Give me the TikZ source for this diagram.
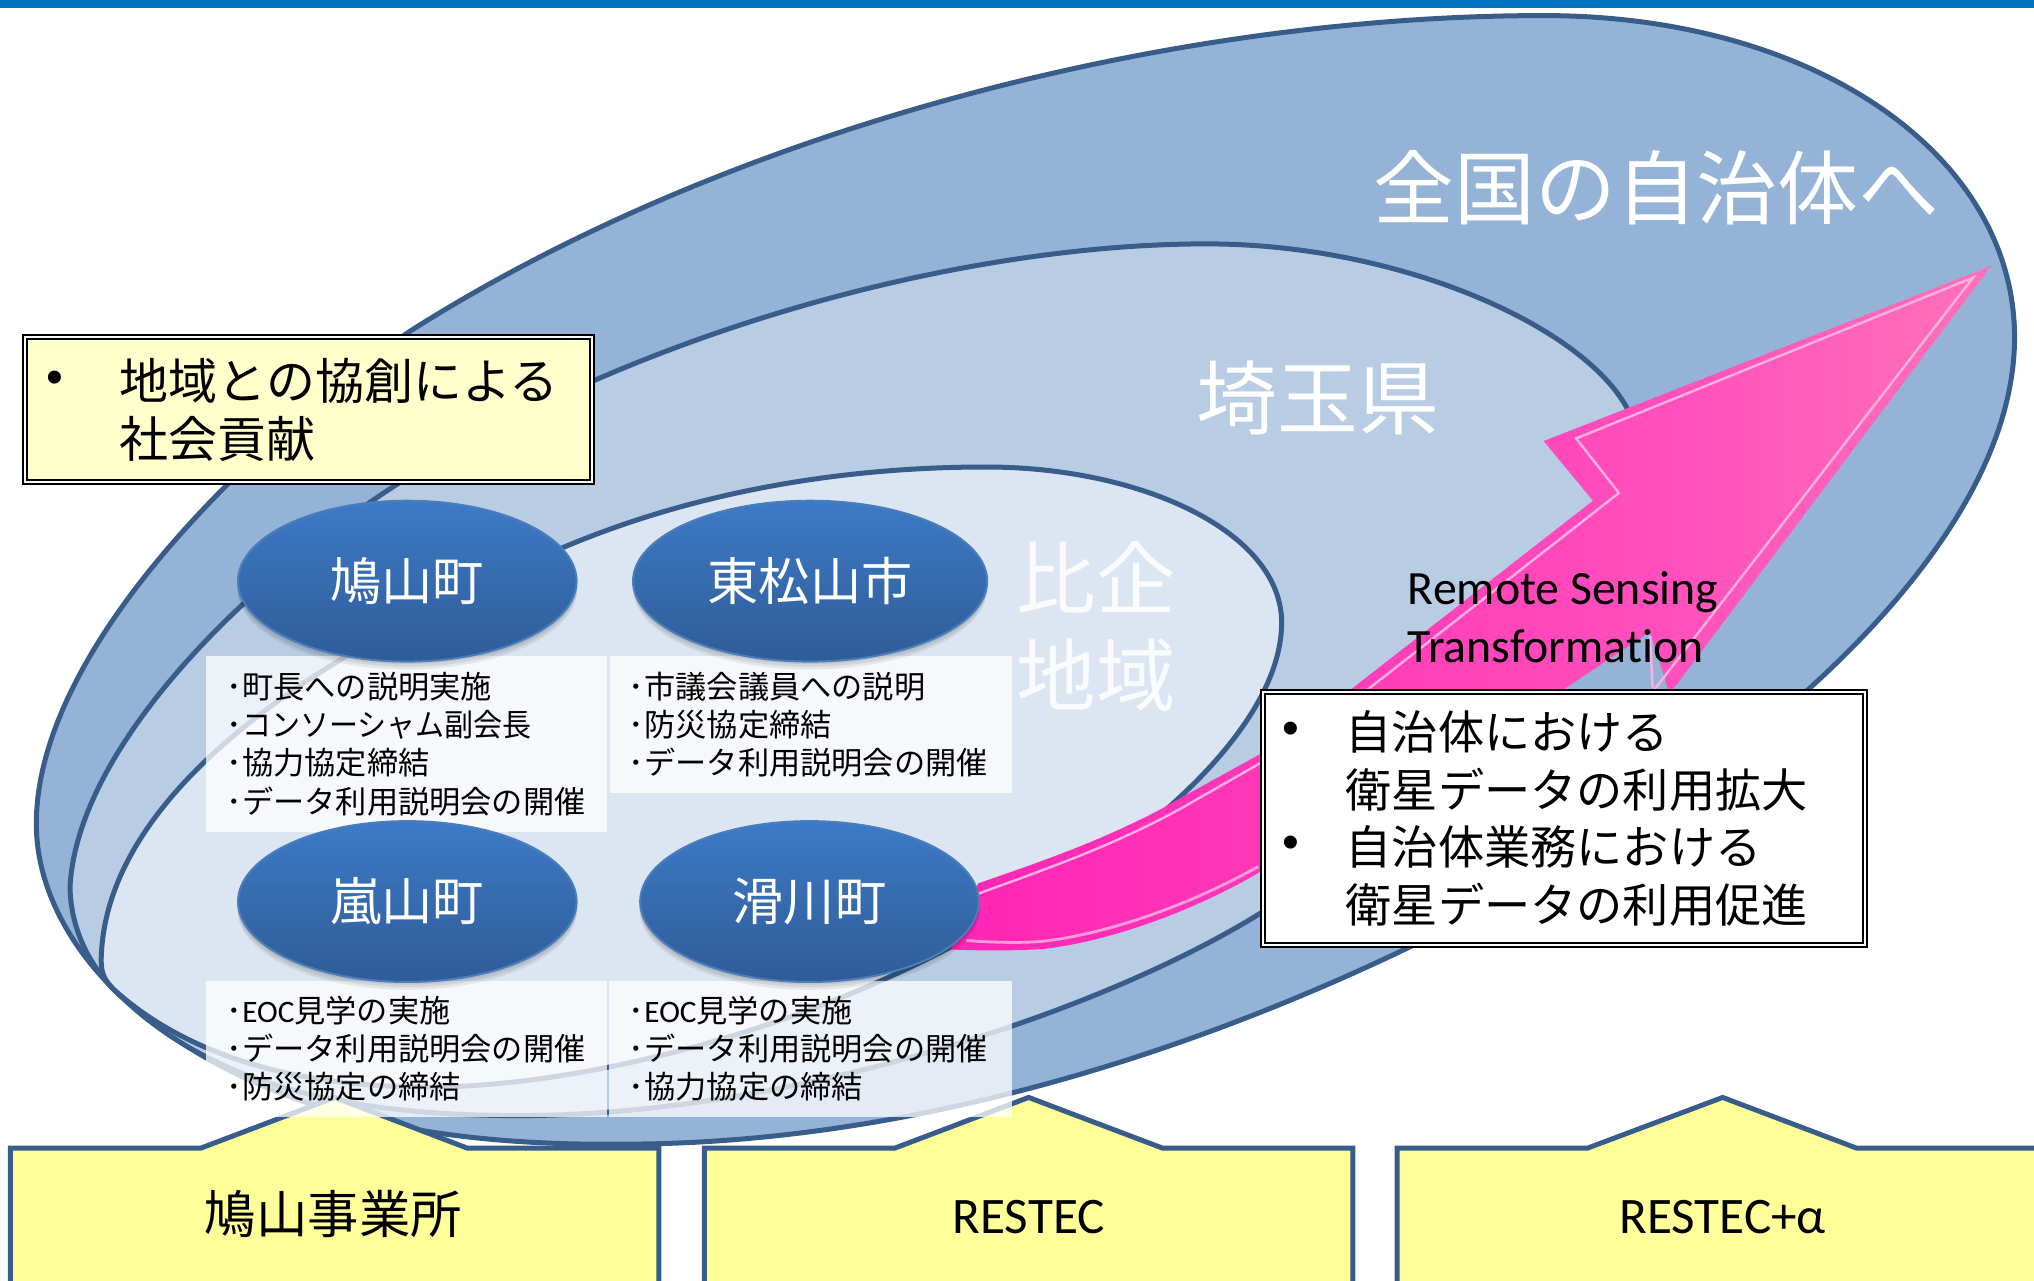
\documentclass[tikz,border=0pt]{standalone}
\usepackage{fontspec}
\setmainfont{Carlito}[Ligatures=NoCommon]
\newfontfamily\jp{Noto Sans CJK JP}
\newfontfamily\bul{Liberation Sans}
\usetikzlibrary{shapes.geometric,shadings}
\definecolor{edgeblue}{HTML}{385D8A}
\definecolor{outerfill}{HTML}{95B3D7}
\definecolor{midfill}{HTML}{B8CCE4}
\definecolor{innerfill}{HTML}{DCE6F2}
\definecolor{topbar}{HTML}{0070C0}
\definecolor{housefill}{HTML}{FFFF99}
\definecolor{calloutfill}{HTML}{FFFFCC}
\definecolor{ballfill}{HTML}{3D7AC6}
\definecolor{ballbottom}{HTML}{2F5C98}
\definecolor{ballline}{HTML}{4A7EBB}
\definecolor{pinkl}{HTML}{FF25B5}
\definecolor{pinkm}{HTML}{FF50BC}
\definecolor{pinkr}{HTML}{FF72B8}
\definecolor{glow}{HTML}{FFB0E0}
\pgfdeclarehorizontalshading{arrowpink}{100bp}{color(0bp)=(pinkl);color(25bp)=(pinkl);color(60bp)=(pinkm);color(75bp)=(pinkr);color(100bp)=(pinkr)}
\tikzset{
  region/.style={draw=edgeblue,line width=2.5pt,line join=round},
  bigtitle/.style={text=white,inner sep=0pt,font=\jp\fontsize{40.4}{48}\selectfont},
  ball/.style={ellipse,minimum height=124*0.6486pt,inner sep=0pt,draw=ballline,line width=1pt,
    top color=ballfill,bottom color=ballbottom,text=white,font=\jp\fontsize{25.6}{30}\selectfont},
  shade blob/.style={fill=black,opacity=0.07},
  notes/.style={anchor=west,inner sep=0pt,align=left,text=black,font=\jp\fontsize{15.6}{19.13}\selectfont},
  pane/.style={fill=white,fill opacity=0.75,draw=none},
  house/.style={draw=edgeblue,line width=2.5pt,fill=housefill,line join=miter},
  blist/.style={anchor=west,inner sep=0pt,align=left,text=black,font=\jp\fontsize{23.1}{28.9}\selectfont},
  dot/.style={inner sep=0pt,font=\bul\fontsize{24}{28}\selectfont},
  lat/.style={inner sep=0pt,text=black,font=\fontsize{25.6}{30}\selectfont},
}
\newcommand{\lt}[1]{{\rmfamily #1}}
\begin{document}
\begin{tikzpicture}[x=0.648597pt,y=-0.648597pt]
\clip (0,0) rectangle (1568,986.8);
\fill[topbar] (0,0) rectangle (1568,6);

% regions
\draw[region,fill=outerfill] (28,635) .. controls (28,520) and (150,375) .. (315,256)
  .. controls (560,100) and (900,12) .. (1190,12)
  .. controls (1400,12) and (1553,120) .. (1553,260)
  .. controls (1553,400) and (1400,545) .. (1250,640)
  .. controls (1100,735) and (800,882) .. (480,882)
  .. controls (300,884) and (175,845) .. (88,763)
  .. controls (50,725) and (28,680) .. (28,635) -- cycle;
\draw[region,fill=midfill] (54,683) .. controls (60,580) and (180,455) .. (305,374)
  .. controls (500,250) and (750,188) .. (930,188)
  .. controls (1100,188) and (1258,270) .. (1262,340)
  .. controls (1290,430) and (1200,560) .. (970,705)
  .. controls (840,785) and (600,860) .. (400,860)
  .. controls (240,860) and (150,825) .. (88,763)
  .. controls (65,740) and (54,710) .. (54,683) -- cycle;
\draw[region,fill=innerfill] (78,740) .. controls (80,630) and (200,520) .. (439,420)
  .. controls (560,370) and (680,360) .. (760,360)
  .. controls (880,360) and (988,410) .. (988,480)
  .. controls (988,560) and (880,660) .. (733,730)
  .. controls (600,800) and (440,838) .. (330,838)
  .. controls (220,838) and (140,810) .. (88,763)
  .. controls (80,755) and (78,750) .. (78,740) -- cycle;

% arrow
\shade[shading=arrowpink]
  (733,732) .. controls (760,733) and (790,733) .. (809,731) .. controls (860,724) and (920,702) .. (970,673)
  -- (1206,531) -- (1272,487) -- (1287,535) -- (1535,205) -- (1190,340) -- (1228,386) -- (1042,531)
  -- (972,581) -- (914,613) .. controls (860,645) and (800,665) .. (754,681) -- cycle;
\draw[glow,line width=1.2pt,line join=miter]
  (754,689) .. controls (800,672) and (860,652) .. (916,620) -- (972,588) -- (1055,531) -- (1248,380)
  -- (1215,338) -- (1521,214) -- (1275,532);
\draw[glow,line width=1.4pt,opacity=0.85]
  (745,725) .. controls (770,727) and (795,727) .. (809,725) .. controls (860,718) and (920,696) .. (970,668);
\draw[glow,line width=1.2pt] (1272,490) -- (1274,530);

% suppliers
\draw[house] (8,990) -- (8,885) -- (155,885) -- (258,846) -- (360,885) -- (508,885) -- (508,990);
\draw[house] (543,990) -- (543,885) -- (690,885) -- (793,846) -- (896,885) -- (1043,885) -- (1043,990);
\draw[house] (1077,990) -- (1077,885) -- (1224,885) -- (1328,846) -- (1431,885) -- (1580,885) -- (1580,990);
\node[inner sep=0pt,font=\jp\fontsize{25.7}{30}\selectfont] (hatoyamaoffice) at (257,936) {鳩山事業所};
\node[lat] (restec) at (793,938) {RESTEC};
\node[lat] (restecplus) at (1328,938) {RESTEC+α};

% translucent panes
\path[pane] (159,506) rectangle (468,641);
\path[pane] (470,506) rectangle (780,611);
\path[pane] (159,756) rectangle (468,861);
\path[pane] (469.5,756) rectangle (780,861);

% titles
\node[bigtitle] (zenkoku) at (1277,145) {全国の自治体へ};
\node[bigtitle] (saitama) at (1016,307) {埼玉県};
\node[bigtitle,text opacity=0.85,align=center,font=\jp\fontsize{39.7}{48.6}\selectfont] (hiki) at (845,483) {比企\\地域};

% notes
\node[notes] (n1) at (174.5,573.5) {･町長への説明実施\\･\scalebox{0.93}[1]{コンソーシャム副会長}\\･協力協定締結\\･データ利用説明会の開催};
\node[notes] (n2) at (484.5,558.5) {･市議会議員への説明\\･防災協定締結\\･データ利用説明会の開催};
\node[notes] (n3) at (174.5,808.5) {･\lt{EOC}見学の実施\\･データ利用説明会の開催\\･防災協定の締結};
\node[notes] (n4) at (484.5,808.5) {･\lt{EOC}見学の実施\\･データ利用説明会の開催\\･協力協定の締結};

% municipalities
\foreach \cx/\cy/\rw in {314/448/262,624.5/448/273,314/695/262,624/695/262}{
  \fill[shade blob] (\cx,\cy+6) ellipse ({\rw/2} and 62);
  \fill[shade blob] (\cx,\cy+4) ellipse ({\rw/2} and 62);
  \fill[shade blob] (\cx,\cy+2) ellipse ({\rw/2} and 62);
}
\node[ball,minimum width=261*0.6486pt] (hatoyama) at (314,448) {鳩山町};
\node[ball,minimum width=273*0.6486pt] (higashi) at (624.5,448) {東松山市};
\node[ball,minimum width=261*0.6486pt] (ranzan) at (314,695) {嵐山町};
\node[ball,minimum width=261*0.6486pt] (namegawa) at (624,695) {滑川町};

% arrow caption
\node[anchor=west,inner sep=0pt,align=left,text=black,font=\fontsize{23.9}{29.2}\selectfont] (rst) at (1085,476) {Remote Sensing\\Transformation};

% callouts
\draw[draw=black,line width=1pt,fill=white] (18,258) rectangle (458,373);
\draw[draw=black,line width=1pt,fill=calloutfill] (21,261) rectangle (455,370);
\node[dot] (b1) at (42,295) {•};
\node[blist,font=\jp\fontsize{24.5}{28.9}\selectfont] (c1) at (92,316) {地域との協創による\\社会貢献};

\draw[draw=black,line width=1pt,fill=white] (972,532) rectangle (1439,730);
\draw[draw=black,line width=1pt,fill=white] (975,535) rectangle (1436,727);
\node[dot] (b2) at (995,565) {•};
\node[dot] (b3) at (995,653) {•};
\node[blist] (c2) at (1037,631) {自治体における\\衛星データの利用拡大\\自治体業務における\\衛星データの利用促進};
\end{tikzpicture}
\end{document}
